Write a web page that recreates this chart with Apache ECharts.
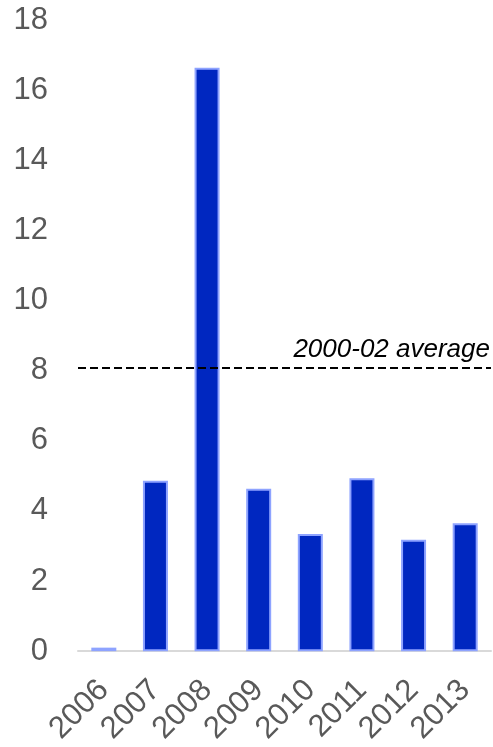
<!DOCTYPE html>
<html>
<head>
<meta charset="utf-8">
<script src="https://cdn.jsdelivr.net/npm/echarts@6/dist/echarts.min.js"></script>
<style>
  html, body { margin: 0; padding: 0; background: #ffffff; }
  #chart { width: 493px; height: 747px; }
</style>
</head>
<body>
<div id="chart"></div>
<script>
// Yearly values shown as bars
const years = ['2006', '2007', '2008', '2009', '2010', '2011', '2012', '2013'];
const values = [0.1, 4.86, 16.64, 4.63, 3.34, 4.93, 3.18, 3.65];

// Reference level drawn as a dashed line
const averageValue = 8.07;
const averageLabel = '2000-02 average';

// Value axis range and step
const yMin = 0;
const yMax = 18;
const yStep = 2;

const FONT = '"Liberation Sans", Arial, sans-serif';

const chart = echarts.init(document.getElementById('chart'), null, { renderer: 'canvas' });

chart.setOption({
  animation: false,
  backgroundColor: '#ffffff',
  grid: { left: 78, right: 2, top: 20, bottom: 94 },
  xAxis: {
    type: 'category',
    data: years,
    axisTick: { show: false },
    axisLine: { show: true, lineStyle: { color: '#d9d9d9', width: 2 } },
    axisLabel: {
      rotate: 45,
      interval: 0,
      margin: 34,
      color: '#595959',
      fontSize: 31,
      fontFamily: FONT
    },
    splitLine: { show: false }
  },
  yAxis: {
    type: 'value',
    min: yMin,
    max: yMax,
    interval: yStep,
    axisLine: { show: false },
    axisTick: { show: false },
    splitLine: { show: false },
    axisLabel: {
      margin: 30,
      color: '#595959',
      fontSize: 31,
      fontFamily: FONT
    }
  },
  series: [{
    type: 'bar',
    data: values,
    barWidth: 25,
    itemStyle: {
      color: '#0027c0',
      borderColor: '#8ea3ff',
      borderWidth: 2
    },
    markLine: {
      silent: true,
      symbol: ['none', 'none'],
      lineStyle: { color: '#000000', type: [8, 4], width: 2 },
      label: {
        show: true,
        position: 'insideEndTop',
        formatter: averageLabel,
        color: '#000000',
        fontSize: 26,
        fontStyle: 'italic',
        fontFamily: FONT,
        distance: [1, 5]
      },
      data: [{ yAxis: averageValue }]
    }
  }]
});
</script>
</body>
</html>
